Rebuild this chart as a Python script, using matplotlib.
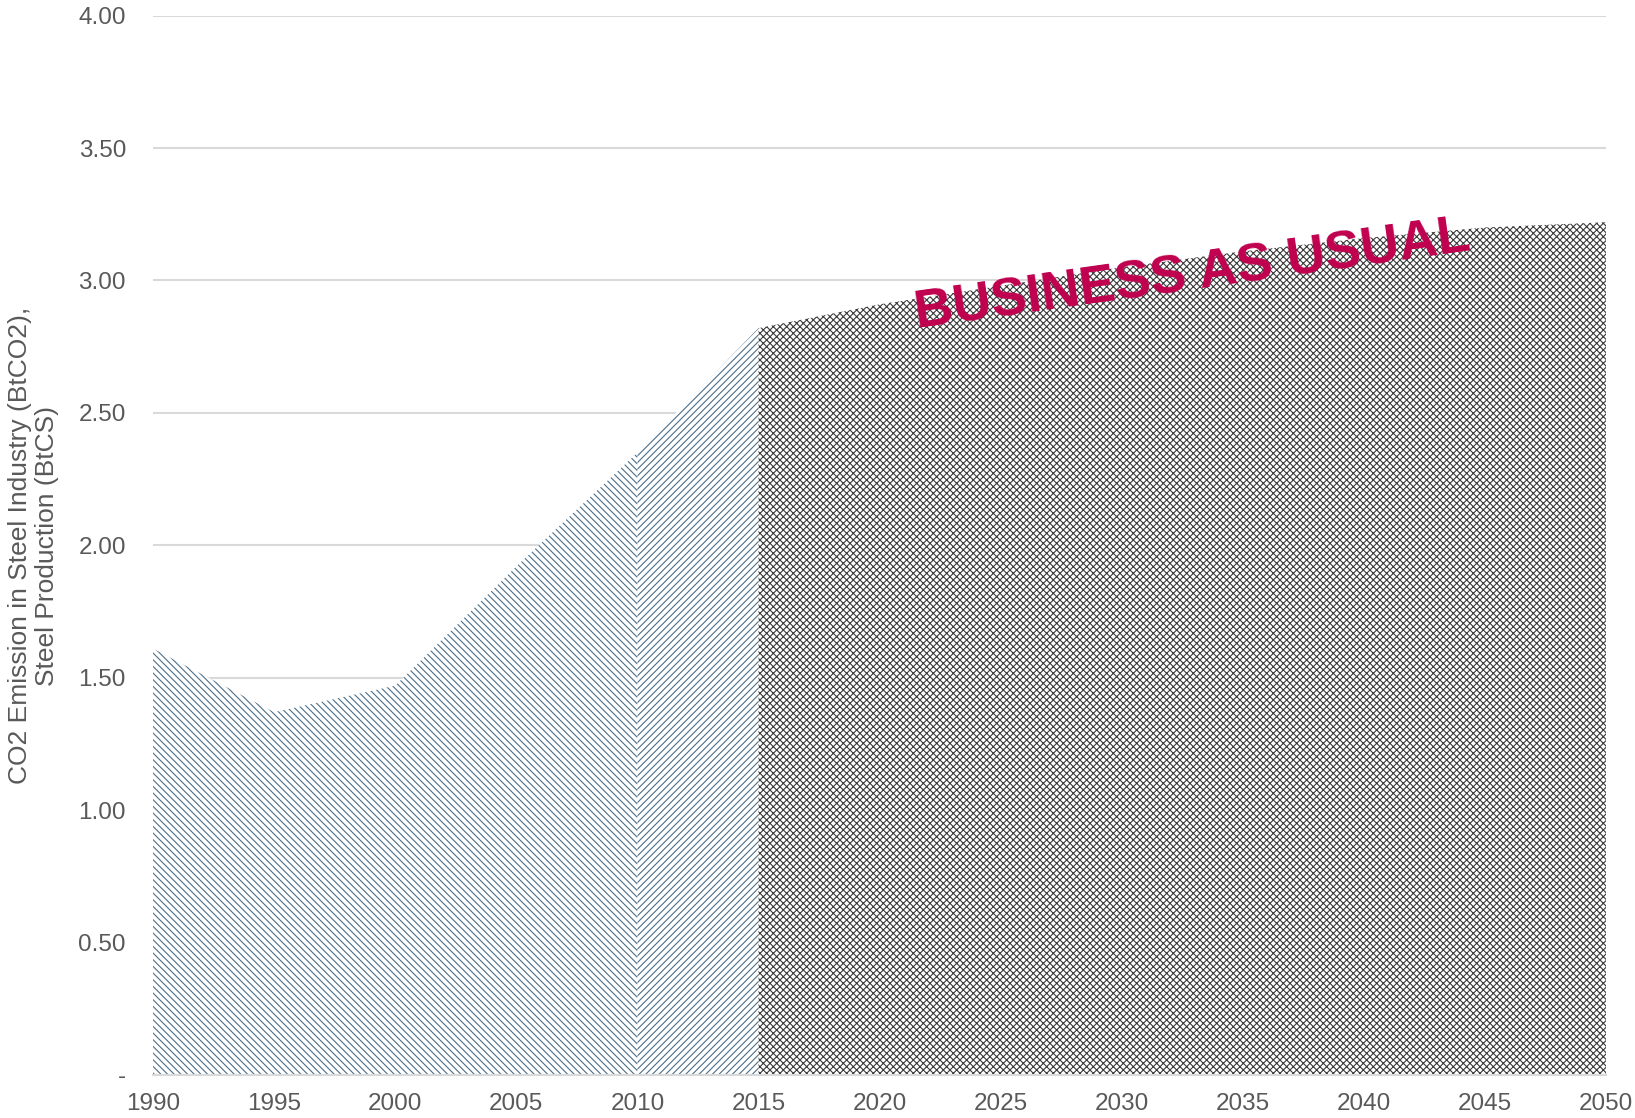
import matplotlib
matplotlib.use("Agg")
import matplotlib.pyplot as plt
from matplotlib.ticker import FuncFormatter

plt.rcParams['font.family'] = ['Liberation Sans', 'DejaVu Sans']
plt.rcParams['hatch.linewidth'] = 0.8

years = [1990, 1995, 2000, 2005, 2010, 2015, 2020, 2025, 2030, 2035, 2040, 2045, 2050]
hist_years = [1990, 1995, 2000, 2005, 2010]
hist_values = [1.61, 1.37, 1.47, 1.92, 2.35]
recent_years = [2010, 2015]
recent_values = [2.35, 2.82]
bau_years = [2015, 2020, 2025, 2030, 2035, 2040, 2045, 2050]
bau_values = [2.82, 2.91, 2.98, 3.05, 3.11, 3.16, 3.20, 3.22]
yticks = [0, 0.5, 1.0, 1.5, 2.0, 2.5, 3.0, 3.5, 4.0]
annotation = "BUSINESS AS USUAL"
ylabel = "CO2 Emission in Steel Industry (BtCO2),\nSteel Production (BtCS)"

fig = plt.figure(figsize=(16.35, 11.18), dpi=100)
ax = fig.add_axes([0.0936, 0.0385, 0.8887, 0.9475])

blue = '#4b6f88'
dark = '#3a3a3a'
ax.fill_between(hist_years, 0, hist_values, facecolor='white', edgecolor=blue,
                hatch='\\' * 5, linewidth=0, zorder=2)
ax.fill_between(recent_years, 0, recent_values, facecolor='white', edgecolor=blue,
                hatch='/' * 5, linewidth=0, zorder=2)
ax.fill_between(bau_years, 0, bau_values, facecolor='white', edgecolor=dark,
                hatch='x' * 5, linewidth=0, zorder=2)

ax.set_xlim(1990, 2050)
ax.set_ylim(0, 4)
ax.set_xticks(years)
ax.set_yticks(yticks)
ax.yaxis.set_major_formatter(FuncFormatter(lambda v, p: '-' if v == 0 else f'{v:.2f}'))
ax.grid(axis='y', color='#d9d9d9', linewidth=1.5, zorder=0)
ax.set_axisbelow(True)
for s in ['top', 'right', 'left']:
    ax.spines[s].set_visible(False)
ax.spines['bottom'].set_color('#d9d9d9')
ax.spines['bottom'].set_linewidth(1.5)
ax.tick_params(axis='both', length=0, labelsize=17.5, labelcolor='#595959')
ax.tick_params(axis='y', pad=19.5)
ax.tick_params(axis='x', pad=13)

fig.text(0.0205, 0.512, ylabel, rotation=90, fontsize=19, color='#595959',
         ha='center', va='center', multialignment='center', linespacing=1.15)

ax.text(2032.9, 3.02, annotation, rotation=8.0, fontsize=38.5, fontweight='bold',
        color='#c0004e', ha='center', va='center', zorder=5)

fig.savefig('out.png', dpi=100)
